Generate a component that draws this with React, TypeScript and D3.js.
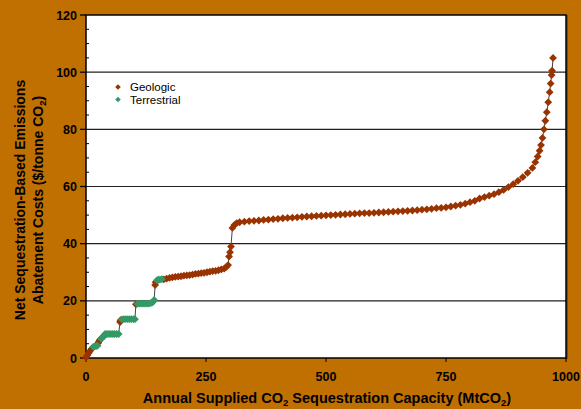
import React from "react";
import * as d3 from "d3";

// cumulative capacity (MtCO2), cost ($/tonne CO2)
const geologic: [number, number][] = [
  [0, 0.3], [3, 1], [6, 1.8], [9, 2.6], [12, 3.2],
  [25, 5.2], [27, 5.8], [29, 6.3], [38, 8.0],
  [71, 12.6], [72, 13.2], [104, 18.8], [144, 25.5], [145, 26.5],
  [162, 27.5], [168, 27.8], [174, 28], [180, 28.2], [186, 28.4], [192, 28.5],
  [198, 28.6], [204, 28.8], [210, 28.9], [216, 29], [222, 29.2], [228, 29.4],
  [234, 29.5], [240, 29.7], [246, 29.8], [252, 30], [258, 30.2], [264, 30.4],
  [270, 30.5], [276, 30.7], [282, 31], [288, 31.3], [292, 31.8], [296, 32.5],
  [298, 35.5], [300, 37], [302, 39], [305, 45.5], [309, 46.5], [314, 47.2],
  [320, 47.5], [330, 47.7], [340, 47.9], [350, 48], [360, 48.1], [370, 48.3],
  [380, 48.4], [390, 48.6], [400, 48.7], [410, 48.9], [420, 49], [430, 49.1],
  [440, 49.2], [450, 49.4], [460, 49.5], [470, 49.6], [480, 49.7], [490, 49.8],
  [500, 49.9], [510, 50], [520, 50.1], [530, 50.2], [540, 50.3], [550, 50.4],
  [560, 50.5], [570, 50.6], [580, 50.7], [590, 50.7], [600, 50.8], [610, 50.9],
  [620, 51], [630, 51.1], [640, 51.2], [650, 51.3], [660, 51.4], [670, 51.5],
  [680, 51.6], [690, 51.7], [700, 51.9], [710, 52], [720, 52.2], [730, 52.4],
  [740, 52.5], [750, 52.7], [760, 53], [770, 53.3], [780, 53.6], [790, 54],
  [800, 54.5], [810, 55], [820, 55.8], [830, 56.3], [840, 56.8], [850, 57.3],
  [860, 58], [870, 58.8], [880, 59.8], [890, 60.8], [900, 62], [910, 63.3],
  [920, 64.8], [930, 66.5], [936, 68.5], [941, 70.5], [945, 72.5], [948, 74.5],
  [951, 77], [954, 80], [957, 83], [960, 86], [963, 89.5], [966, 93],
  [968, 96], [970, 99], [971, 100.5], [973, 105],
];

const terrestrial: [number, number][] = [
  [15, 3.9], [18, 4.1], [21, 4.2], [24, 4.3],
  [31, 6.8], [34, 7.2], [37, 7.5],
  [40, 8.4], [44, 8.4], [48, 8.4], [52, 8.4], [56, 8.4], [60, 8.4], [64, 8.4], [68, 8.4],
  [75, 13.5], [79, 13.6], [83, 13.6], [87, 13.6], [91, 13.6], [95, 13.6], [99, 13.6], [102, 13.6],
  [107, 19], [111, 19], [115, 19], [119, 19], [123, 19], [127, 19], [131, 19], [135, 19.2],
  [139, 19.5], [142, 20.3],
  [148, 27.2], [151, 27.4], [154, 27.4], [158, 27.6],
];

const xTicks = [0, 250, 500, 750, 1000];
const yTicks = [0, 20, 40, 60, 80, 100, 120];
const legendItems = ["Geologic", "Terrestrial"];

const W = 581;
const H = 409;
const BG = "#C07000";
const GEO = "#993300";
const TER = "#339966";

const x = d3.scaleLinear().domain([0, 1000]).range([86, 566]);
const y = d3.scaleLinear().domain([0, 120]).range([358, 15]);

const diamond = (s: number) => `M0,${-s}L${s},0L0,${s}L${-s},0Z`;

export default function App() {
  const all = [...geologic, ...terrestrial].sort((a, b) => a[0] - b[0] || a[1] - b[1]);
  const line = d3.line<[number, number]>().x((d) => x(d[0])).y((d) => y(d[1]))(all) || "";
  const minor = d3.range(0, 121, 5).filter((v) => v % 20 !== 0);
  const font = "Arial, 'Liberation Sans', sans-serif";

  return (
    <svg width={W} height={H} style={{ position: "fixed", left: 0, top: 0 }} fontFamily={font}>
      <rect width={W} height={H} fill={BG} />
      <rect x={x(0)} y={y(120)} width={x(1000) - x(0)} height={y(0) - y(120)} fill="#fff" />
      {yTicks.filter((v) => v > 0 && v < 120).map((v) => (
        <line key={v} x1={x(0)} x2={x(1000)} y1={y(v)} y2={y(v)} stroke="#222" strokeWidth={1.2} />
      ))}
      {/* frame */}
      <line x1={x(1000) + 1} x2={x(1000) + 1} y1={y(120)} y2={y(0) + 1} stroke="#555" strokeWidth={2} />
      <rect x={x(0)} y={y(120)} width={x(1000) - x(0)} height={y(0) - y(120)} fill="none" stroke="#000" strokeWidth={1.5} />
      {/* y ticks */}
      {yTicks.map((v) => (
        <g key={v}>
          <line x1={x(0) - 6} x2={x(0)} y1={y(v)} y2={y(v)} stroke="#000" strokeWidth={1.3} />
          <text x={x(0) - 9} y={y(v) + 4.5} textAnchor="end" fontSize={12.5} fontWeight="bold" fill="#000">{v}</text>
        </g>
      ))}
      {minor.map((v) => (
        <line key={v} x1={x(0)} x2={x(0) + 3} y1={y(v)} y2={y(v)} stroke="#000" strokeWidth={1} />
      ))}
      {/* x ticks */}
      {xTicks.map((v) => (
        <g key={v}>
          <line x1={x(v)} x2={x(v)} y1={y(0)} y2={y(0) + 4} stroke="#000" strokeWidth={1} />
          <text x={x(v)} y={y(0) + 23} textAnchor="middle" fontSize={12.5} fontWeight="bold" fill="#000">{v}</text>
        </g>
      ))}
      {/* series */}
      <path d={line} fill="none" stroke="#444" strokeWidth={1} />
      {geologic.map((d, i) => (
        <path key={"g" + i} d={diamond(3.9)} transform={`translate(${x(d[0])},${y(d[1])})`} fill={GEO} />
      ))}
      {terrestrial.map((d, i) => (
        <path key={"t" + i} d={diamond(3.9)} transform={`translate(${x(d[0])},${y(d[1])})`} fill={TER} />
      ))}
      {/* legend */}
      {legendItems.map((name, i) => (
        <g key={name} transform={`translate(118,${87 + i * 12.5})`}>
          <path d={diamond(2.8)} fill={i === 0 ? GEO : TER} />
          <text x={12} y={4} fontSize={11.5} fill="#000">{name}</text>
        </g>
      ))}
      {/* axis titles */}
      <text x={327} y={403} textAnchor="middle" fontSize={14.5} fontWeight="bold" fill="#000">
        Annual Supplied CO<tspan fontSize={9.5} dy={3}>2</tspan>
        <tspan dy={-3}> Sequestration Capacity (MtCO</tspan>
        <tspan fontSize={9.5} dy={3}>2</tspan>
        <tspan dy={-3}>)</tspan>
      </text>
      <g transform="translate(0,200) rotate(-90)">
        <text x={0} y={25} textAnchor="middle" fontSize={14} fontWeight="bold" fill="#000">
          Net Sequestration-Based Emissions
        </text>
        <text x={0} y={43} textAnchor="middle" fontSize={14} fontWeight="bold" fill="#000">
          Abatement Costs ($/tonne CO<tspan fontSize={9.5} dy={3}>2</tspan>
          <tspan dy={-3}>)</tspan>
        </text>
      </g>
    </svg>
  );
}
